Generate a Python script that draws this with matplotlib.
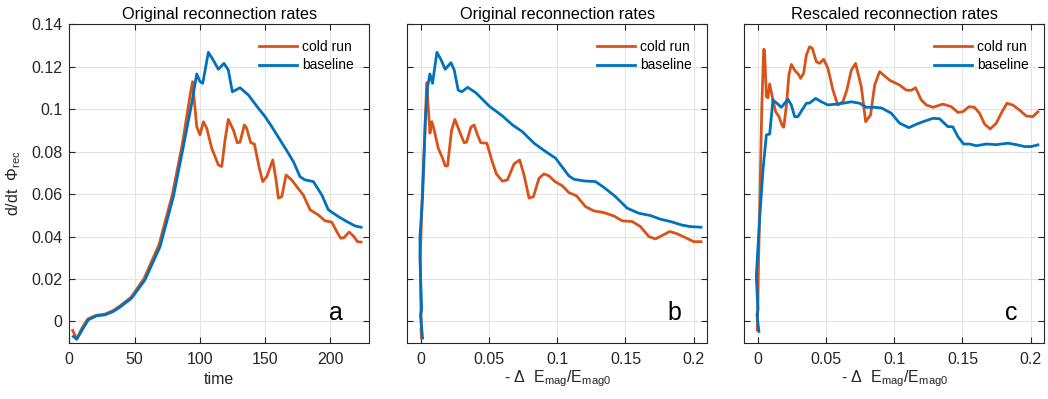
import numpy as np
import matplotlib
matplotlib.use('Agg')
import matplotlib.pyplot as plt

# panel a: rate vs time
t_base = [3.1, 5.7, 10.7, 14.6, 21, 27.4, 33.7, 38.9, 47.8, 58, 69.6, 79.8, 87.4, 93.9,
          97.7, 100.2, 102.3, 106.6, 110.4, 114.3, 118.6, 121.9, 125, 130.9, 137.3, 145,
          150.1, 155.2, 161.6, 167.2, 171.8, 176.9, 180.7, 187.1, 193.6, 198.6, 206.3,
          212.7, 219.1, 223.7]
r_base = [-0.0071, -0.0083, -0.0031, 0.0008, 0.0027, 0.0031, 0.0047, 0.0068, 0.011, 0.0196,
          0.0353, 0.0588, 0.0823, 0.1028, 0.1166, 0.113, 0.1122, 0.1268, 0.1231, 0.1188,
          0.1216, 0.1185, 0.1082, 0.1101, 0.1067, 0.1004, 0.0965, 0.0918, 0.0855, 0.08,
          0.0753, 0.0682, 0.0667, 0.0659, 0.0596, 0.0526, 0.0494, 0.0471, 0.045, 0.0444]

t_cold = [2.6, 5.7, 10.0, 14.0, 20.5, 27, 33.2, 38.4, 47.3, 57.3, 68.8, 79.0, 86.6, 93.0,
          94.5, 97.7, 100.2, 102.8, 105.4, 109.2, 114.3, 116.9, 119.4, 121.9, 125.8, 128.8,
          130.9, 134.2, 136, 139.1, 141.9, 145.7, 148.3, 151.4, 156, 158.5, 160.3, 162.9,
          166.2, 170.5, 174.4, 179.4, 184.6, 190.9, 196.1, 201.2, 205, 208.1, 210.6, 214.5,
          217.8, 220.9, 223.7]
r_cold = [-0.0042, -0.0083, -0.0028, 0.0011, 0.0029, 0.0034, 0.005, 0.0071, 0.0114, 0.0202,
          0.0362, 0.0598, 0.0833, 0.108, 0.113, 0.0918, 0.0879, 0.0941, 0.091, 0.0816,
          0.0737, 0.073, 0.0855, 0.0952, 0.0902, 0.0842, 0.0845, 0.0926, 0.091, 0.0842,
          0.0836, 0.0722, 0.0659, 0.0682, 0.0761, 0.0667, 0.0581, 0.0588, 0.069, 0.0667,
          0.0635, 0.0596, 0.0526, 0.0502, 0.0474, 0.0468, 0.0424, 0.0392, 0.0395, 0.0421,
          0.0403, 0.0376, 0.0374]

# panel b: rate vs released magnetic energy
e_base_b = [0.0012, 0.0008, -0.0003, 0.0005, -0.0007, -0.0007, 0.0012, 0.0032, 0.0049,
            0.0066, 0.0085, 0.0117, 0.0146, 0.0178, 0.022, 0.0244, 0.0273, 0.03, 0.0342,
            0.0402, 0.05, 0.0598, 0.0671, 0.0744, 0.0829, 0.0915, 0.0988, 0.1025, 0.1085,
            0.1122, 0.1195, 0.128, 0.1341, 0.1427, 0.1512, 0.1597, 0.1683, 0.1756, 0.1829,
            0.1915, 0.1976, 0.2054]
r_base_b = [-0.0078, -0.005, 0.003, 0.0055, 0.03, 0.04, 0.0588, 0.0949, 0.1106, 0.1166,
            0.1122, 0.1268, 0.1235, 0.1188, 0.1219, 0.1185, 0.109, 0.1082, 0.1103, 0.1078,
            0.1015, 0.0968, 0.0926, 0.0894, 0.084, 0.08, 0.0769, 0.0737, 0.0686, 0.067,
            0.0662, 0.0659, 0.0632, 0.0588, 0.0534, 0.051, 0.0499, 0.0482, 0.0471, 0.0454,
            0.0447, 0.0444]

e_cold_b = [0.0, 0.0005, 0.0, -0.0005, 0.001, 0.003, 0.0042, 0.0066, 0.008, 0.0097, 0.0127,
            0.0159, 0.0178, 0.0195, 0.0225, 0.0249, 0.0293, 0.0317, 0.0335, 0.0366, 0.039,
            0.0415, 0.0439, 0.0483, 0.0519, 0.0553, 0.0598, 0.0634, 0.0683, 0.0724, 0.0756,
            0.0793, 0.0825, 0.0866, 0.0902, 0.0939, 0.0983, 0.1037, 0.1085, 0.1141, 0.1207,
            0.1268, 0.1341, 0.1415, 0.1476, 0.1549, 0.161, 0.1671, 0.172, 0.1769, 0.1825,
            0.1879, 0.194, 0.2, 0.2054]
r_cold_b = [-0.004, -0.008, 0.005, 0.03, 0.06, 0.09, 0.1125, 0.0887, 0.0941, 0.0902, 0.0816,
            0.0769, 0.0733, 0.0733, 0.0902, 0.0952, 0.0879, 0.0842, 0.0845, 0.0915, 0.0926,
            0.0879, 0.0842, 0.084, 0.0761, 0.0695, 0.0661, 0.0667, 0.0742, 0.0761, 0.069,
            0.0581, 0.0588, 0.0675, 0.0695, 0.0686, 0.0659, 0.0639, 0.0607, 0.0592, 0.0541,
            0.0521, 0.0513, 0.0497, 0.0474, 0.0471, 0.0447, 0.04, 0.0389, 0.0405, 0.0424,
            0.0413, 0.0395, 0.0376, 0.0376]

# panel c: rescaled rate vs released magnetic energy
e_base_c = [0.0007, -0.0007, 0.0, -0.0012, 0.0012, 0.0037, 0.0062, 0.0086, 0.011, 0.0139,
            0.0172, 0.022, 0.0245, 0.0269, 0.0293, 0.0355, 0.0379, 0.0423, 0.0465, 0.0513,
            0.0575, 0.0623, 0.0685, 0.0746, 0.0795, 0.0856, 0.0905, 0.0978, 0.1039, 0.1107,
            0.1161, 0.121, 0.1283, 0.1332, 0.1393, 0.1429, 0.1466, 0.1508, 0.1551, 0.1601,
            0.1675, 0.1748, 0.1833, 0.1894, 0.1955, 0.2004, 0.2053]
r_base_c = [-0.0047, 0.0031, 0.0055, 0.0212, 0.0479, 0.0714, 0.0879, 0.0883, 0.1043, 0.1028,
            0.1009, 0.1047, 0.102, 0.0965, 0.0965, 0.1028, 0.1029, 0.1051, 0.1035, 0.102,
            0.1024, 0.1028, 0.1035, 0.1028, 0.1009, 0.1009, 0.1006, 0.0981, 0.0934, 0.0913,
            0.0929, 0.0941, 0.0957, 0.0955, 0.0918, 0.0917, 0.0871, 0.0836, 0.0836, 0.0828,
            0.0836, 0.0833, 0.084, 0.0833, 0.0824, 0.0824, 0.0832]

e_cold_c = [-0.0005, 0.0, 0.0005, 0.0015, 0.0028, 0.0042, 0.0048, 0.0062, 0.0073, 0.0086,
            0.011, 0.013, 0.0154, 0.0179, 0.0189, 0.0208, 0.0227, 0.0245, 0.0269, 0.0301,
            0.0313, 0.0335, 0.0355, 0.0379, 0.0399, 0.0428, 0.0452, 0.0482, 0.0513, 0.055,
            0.0586, 0.0623, 0.0652, 0.0685, 0.0716, 0.0758, 0.079, 0.0826, 0.0856, 0.0892,
            0.0965, 0.1038, 0.1088, 0.1124, 0.1156, 0.1198, 0.1235, 0.1283, 0.1356, 0.1418,
            0.1466, 0.1503, 0.1547, 0.1588, 0.1625, 0.1662, 0.1703, 0.1748, 0.1784, 0.1826,
            0.187, 0.1918, 0.1968, 0.2016, 0.2053]
r_cold_c = [-0.004, 0.01, 0.03, 0.06, 0.1, 0.1282, 0.128, 0.1059, 0.1054, 0.1119, 0.1043,
            0.0988, 0.0965, 0.0921, 0.0915, 0.1012, 0.1161, 0.1211, 0.1184, 0.1161, 0.1145,
            0.1169, 0.1255, 0.1294, 0.1287, 0.1224, 0.1216, 0.1235, 0.1193, 0.109, 0.102,
            0.1035, 0.109, 0.1184, 0.1216, 0.1106, 0.0941, 0.0973, 0.1114, 0.1177, 0.1137,
            0.1114, 0.109, 0.1089, 0.1101, 0.1043, 0.102, 0.1009, 0.1024, 0.1012, 0.0985,
            0.0988, 0.1012, 0.1009, 0.0981, 0.093, 0.0907, 0.0934, 0.0981, 0.1028, 0.1019,
            0.0996, 0.0968, 0.0965, 0.0988]

titles = ['Original reconnection rates', 'Original reconnection rates', 'Rescaled reconnection rates']
letters = ['a', 'b', 'c']
yticks = [0, 0.02, 0.04, 0.06, 0.08, 0.1, 0.12, 0.14]
ytick_labels = ['0', '0.02', '0.04', '0.06', '0.08', '0.1', '0.12', '0.14']

orange = '#D95319'
blue = '#0072BD'
axcol = '#262626'

plt.rcParams['font.family'] = ['Liberation Sans', 'DejaVu Sans']
plt.rcParams['mathtext.default'] = 'regular'

fig = plt.figure(figsize=(10.48, 3.99), dpi=100)
lefts = [69.3, 407.3, 744.3]
axes = []
for l in lefts:
    axes.append(fig.add_axes([l / 1048, 1 - 342.7 / 399, 300 / 1048, 318.4 / 399]))

data = [(t_cold, r_cold, t_base, r_base),
        (e_cold_b, r_cold_b, e_base_b, r_base_b),
        (e_cold_c, r_cold_c, e_base_c, r_base_c)]

for i, ax in enumerate(axes):
    xc, yc, xb, yb = data[i]
    ax.plot(xc, yc, color=orange, lw=2, label='cold run')
    ax.plot(xb, yb, color=blue, lw=2, label='baseline')
    ax.set_ylim(-0.01, 0.14)
    ax.set_yticks(yticks)
    if i == 0:
        ax.set_xlim(0, 230)
        ax.set_xticks([0, 50, 100, 150, 200])
        ax.set_yticklabels(ytick_labels)
        ax.set_xlabel('time', fontsize=11.5, color=axcol, labelpad=3)
        ax.set_ylabel(r'd/dt  $\Phi_{rec}$', fontsize=11.5, color=axcol, labelpad=6)
    else:
        ax.set_xlim(-0.01, 0.21)
        ax.set_xticks([0, 0.05, 0.1, 0.15, 0.2])
        ax.set_xticklabels(['0', '0.05', '0.1', '0.15', '0.2'])
        ax.set_yticklabels([])
        ax.set_xlabel(r'- $\Delta$  E$_{mag}$/E$_{mag0}$', fontsize=11.5, color=axcol,
                      labelpad=1)
    ax.set_title(titles[i], fontsize=11.7, color='black', pad=4)
    ax.grid(True, color='#e3e3e3', lw=0.8)
    ax.set_axisbelow(True)
    ax.tick_params(direction='in', top=True, right=True, labelsize=11.5, colors=axcol,
                   length=4, pad=7)
    ax.tick_params(axis='y', pad=5)
    for s in ax.spines.values():
        s.set_color(axcol)
        s.set_linewidth(0.8)
    ax.legend(loc='upper right', frameon=False, fontsize=10, handlelength=2.75,
              handletextpad=0.35, borderaxespad=0.7, labelspacing=0.35)
    ax.text(0.89, 0.092, letters[i], transform=ax.transAxes, fontsize=18,
            ha='center', va='center', color='black')

fig.savefig('out.png', dpi=100)
